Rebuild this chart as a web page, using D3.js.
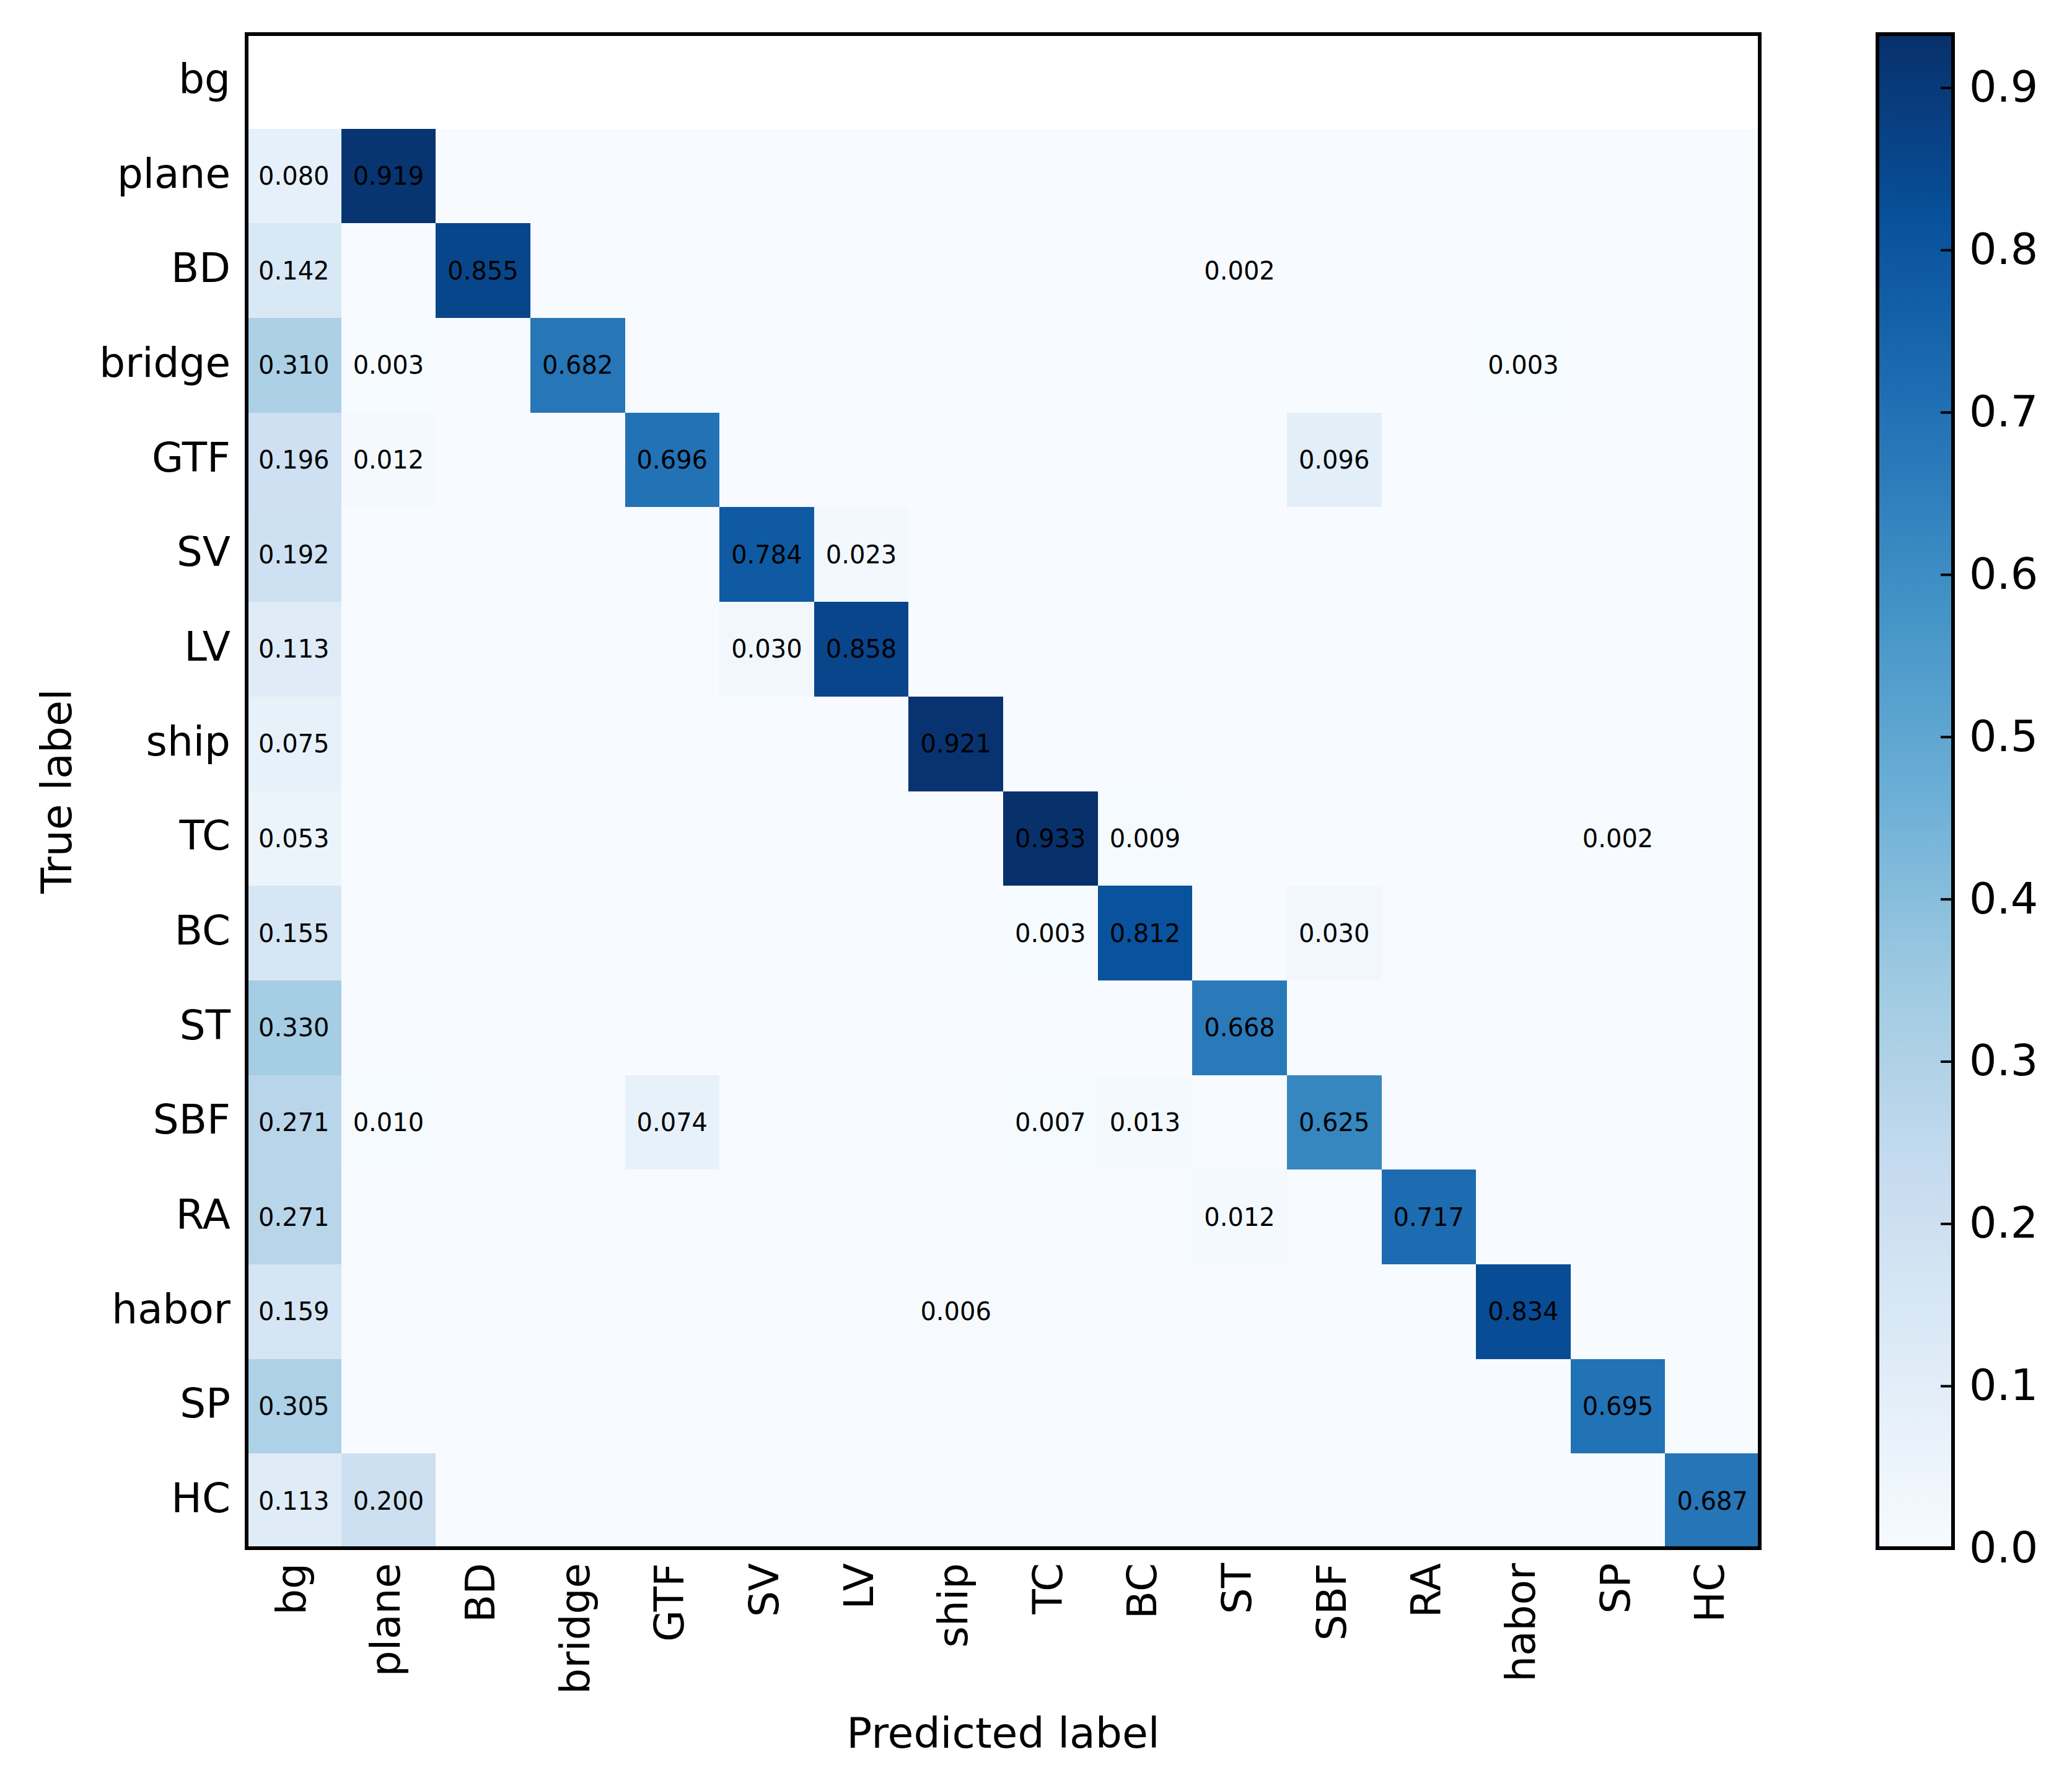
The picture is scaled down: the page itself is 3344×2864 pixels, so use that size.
<!DOCTYPE html>
<html>
<head>
<meta charset="utf-8">
<script src="https://cdn.jsdelivr.net/npm/d3@7"></script>
<style>
  html, body { margin: 0; padding: 0; background: #fff; }
  text { font-family: "DejaVu Sans", sans-serif; fill: #000; }
</style>
</head>
<body>
<svg id="chart" width="3344" height="2864"></svg>
<script>
// ---- data ----
const categories = ["bg","plane","BD","bridge","GTF","SV","LV","ship","TC","BC","ST","SBF","RA","habor","SP","HC"];
// rows = true label, columns = predicted label (bg row has no samples -> NaN)
const rowBg     = [NaN,NaN,NaN,NaN,NaN,NaN,NaN,NaN,NaN,NaN,NaN,NaN,NaN,NaN,NaN,NaN];
const rowPlane  = [0.080,0.919,0,0,0,0,0,0,0,0,0,0,0,0,0,0];
const rowBD     = [0.142,0,0.855,0,0,0,0,0,0,0,0.002,0,0,0,0,0];
const rowBridge = [0.310,0.003,0,0.682,0,0,0,0,0,0,0,0,0,0.003,0,0];
const rowGTF    = [0.196,0.012,0,0,0.696,0,0,0,0,0,0,0.096,0,0,0,0];
const rowSV     = [0.192,0,0,0,0,0.784,0.023,0,0,0,0,0,0,0,0,0];
const rowLV     = [0.113,0,0,0,0,0.030,0.858,0,0,0,0,0,0,0,0,0];
const rowShip   = [0.075,0,0,0,0,0,0,0.921,0,0,0,0,0,0,0,0];
const rowTC     = [0.053,0,0,0,0,0,0,0,0.933,0.009,0,0,0,0,0.002,0];
const rowBC     = [0.155,0,0,0,0,0,0,0,0.003,0.812,0,0.030,0,0,0,0];
const rowST     = [0.330,0,0,0,0,0,0,0,0,0,0.668,0,0,0,0,0];
const rowSBF    = [0.271,0.010,0,0,0.074,0,0,0,0.007,0.013,0,0.625,0,0,0,0];
const rowRA     = [0.271,0,0,0,0,0,0,0,0,0,0.012,0,0.717,0,0,0];
const rowHabor  = [0.159,0,0,0,0,0,0,0.006,0,0,0,0,0,0.834,0,0];
const rowSP     = [0.305,0,0,0,0,0,0,0,0,0,0,0,0,0,0.695,0];
const rowHC     = [0.113,0.200,0,0,0,0,0,0,0,0,0,0,0,0,0,0.687];
const matrix = [rowBg,rowPlane,rowBD,rowBridge,rowGTF,rowSV,rowLV,rowShip,rowTC,rowBC,rowST,rowSBF,rowRA,rowHabor,rowSP,rowHC];
const colorbarTicks = [0.0,0.1,0.2,0.3,0.4,0.5,0.6,0.7,0.8,0.9];
const blues = ["#f7fbff","#deebf7","#c6dbef","#9ecae1","#6baed6","#4292c6","#2171b5","#08519c","#08306b"];

// ---- layout ----
const svg = d3.select("#chart");
const L = 398, R = 2840, T = 55, B = 2498;
const vmax = d3.max(matrix.flat().filter(v => !isNaN(v)));

const x = d3.scaleBand().domain(categories).range([L, R]);
const y = d3.scaleBand().domain(categories).range([T, B]);
const norm = d3.scaleLinear().domain(d3.range(blues.length).map(i => i / (blues.length - 1) * vmax)).range(blues).interpolate(d3.interpolateRgb).clamp(true);

const cells = [];
matrix.forEach((row, i) => row.forEach((v, j) => cells.push({r: categories[i], c: categories[j], v})));

svg.append("g").selectAll("rect").data(cells.filter(d => !isNaN(d.v))).join("rect")
  .attr("x", d => x(d.c)).attr("y", d => y(d.r))
  .attr("width", x.bandwidth() + 0.6).attr("height", y.bandwidth() + 0.6)
  .attr("fill", d => norm(d.v))
  .attr("shape-rendering", "crispEdges");

svg.append("g").selectAll("text").data(cells.filter(d => d.v > 0)).join("text")
  .attr("x", d => x(d.c) + x.bandwidth() / 2)
  .attr("y", d => y(d.r) + y.bandwidth() / 2)
  .attr("text-anchor", "middle").attr("dominant-baseline", "central")
  .style("font-size", "40px")
  .text(d => d3.format(".3f")(d.v));

// frame
svg.append("rect").attr("x", L).attr("y", T).attr("width", R - L).attr("height", B - T)
  .attr("fill", "none").attr("stroke", "#000").attr("stroke-width", 6);

// y axis
const gy = svg.append("g").attr("transform", `translate(${L},0)`)
  .call(d3.axisLeft(y).tickSize(0).tickPadding(26));
gy.select(".domain").remove();
gy.selectAll("text").style("font-size", "66px").style("font-family", "DejaVu Sans").attr("dy", "0.28em");

// x axis
const gx = svg.append("g").attr("transform", `translate(0,${B})`)
  .call(d3.axisBottom(x).tickSize(0));
gx.select(".domain").remove();
gx.selectAll("text").style("font-size", "66px").style("font-family", "DejaVu Sans")
  .attr("transform", "rotate(-90)").attr("text-anchor", "end")
  .attr("x", -24).attr("y", 0).attr("dy", "0.28em");

// axis titles
svg.append("text").attr("x", (L + R) / 2).attr("y", 2820).attr("text-anchor", "middle")
  .style("font-size", "68px").text("Predicted label");
svg.append("text").attr("transform", `translate(115,${(T + B) / 2}) rotate(-90)`)
  .attr("text-anchor", "middle").style("font-size", "68px").text("True label");

// colorbar
const CL = 3030, CR = 3152;
const cy = d3.scaleLinear().domain([0, vmax]).range([B, T]);
const defs = svg.append("defs");
const grad = defs.append("linearGradient").attr("id", "cbgrad")
  .attr("x1", 0).attr("y1", 1).attr("x2", 0).attr("y2", 0);
grad.selectAll("stop").data(d3.range(0, 1.0001, 0.02)).join("stop")
  .attr("offset", d => d).attr("stop-color", d => norm(d * vmax));
svg.append("rect").attr("x", CL).attr("y", T).attr("width", CR - CL).attr("height", B - T)
  .attr("fill", "url(#cbgrad)");
const gc = svg.append("g").attr("transform", `translate(${CR},0)`)
  .call(d3.axisRight(cy).tickValues(colorbarTicks).tickFormat(d3.format(".1f")).tickSizeInner(-20).tickSizeOuter(0).tickPadding(26));
gc.select(".domain").remove();
gc.selectAll("line").attr("stroke", "#000").attr("stroke-width", 4);
gc.selectAll("text").style("font-size", "70px").style("font-family", "DejaVu Sans");
svg.append("rect").attr("x", CL).attr("y", T).attr("width", CR - CL).attr("height", B - T)
  .attr("fill", "none").attr("stroke", "#000").attr("stroke-width", 6);
</script>
</body>
</html>
